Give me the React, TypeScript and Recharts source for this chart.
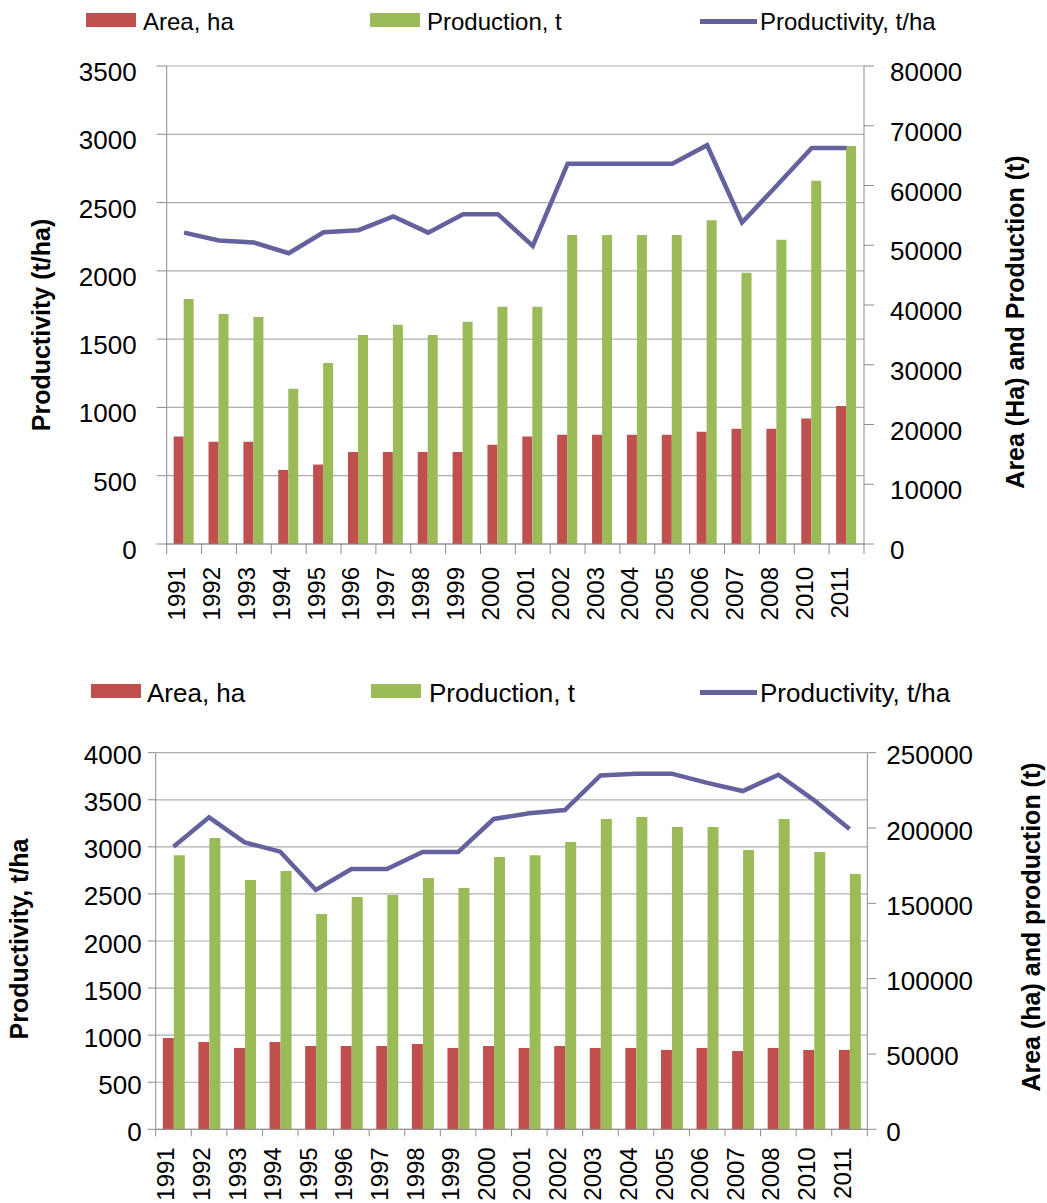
import { ComposedChart, Bar, Line, XAxis, YAxis, CartesianGrid, Label } from "recharts"

const FONT = '"Liberation Sans", Arial, Helvetica, sans-serif'
const AREA_COLOR = "#C0504D"
const PROD_COLOR = "#9BBB59"
const LINE_COLOR = "#63629F"
const AXIS_COLOR = "#8C8C8C"
const GRID_COLOR = "#ADADAD"

const years = [
  "1991", "1992", "1993", "1994", "1995", "1996", "1997", "1998", "1999", "2000",
  "2001", "2002", "2003", "2004", "2005", "2006", "2007", "2008", "2010", "2011",
]

// upper chart
const topArea = [
  18000, 17100, 17100, 12400, 13300, 15400, 15400, 15400, 15400, 16600,
  18000, 18300, 18300, 18300, 18300, 18800, 19300, 19300, 21000, 23100,
]
const topProduction = [
  41000, 38500, 38000, 26000, 30300, 35000, 36700, 35000, 37200, 39700,
  39700, 51700, 51700, 51700, 51700, 54200, 45400, 50900, 60800, 66600,
]
const topProductivity = [
  2280, 2222, 2207, 2129, 2283, 2298, 2398, 2280, 2415, 2415,
  2183, 2785, 2785, 2785, 2785, 2920, 2354, 2625, 2900, 2900,
]
const topLeftTicks = [0, 500, 1000, 1500, 2000, 2500, 3000, 3500]
const topRightTicks = [0, 10000, 20000, 30000, 40000, 50000, 60000, 70000, 80000]

// lower chart
const bottomArea = [
  60600, 58000, 54000, 58000, 55300, 55300, 55300, 56600, 54000, 55300,
  54000, 55300, 54000, 54000, 52700, 54000, 52000, 54000, 52700, 52700,
]
const bottomProduction = [
  182000, 193400, 165500, 171500, 142900, 154200, 155500, 166800, 160200, 180800,
  182000, 190700, 206000, 207300, 200700, 200700, 185400, 206000, 184100, 169500,
]
const bottomProductivity = [
  3002, 3313, 3048, 2949, 2542, 2765, 2765, 2945, 2945, 3296,
  3356, 3391, 3759, 3777, 3777, 3680, 3593, 3766, 3497, 3189,
]
const bottomLeftTicks = [0, 500, 1000, 1500, 2000, 2500, 3000, 3500, 4000]
const bottomRightTicks = [0, 50000, 100000, 150000, 200000, 250000]

const toRows = (area: number[], production: number[], productivity: number[]) =>
  years.map((year, i) => ({ year, area: area[i], production: production[i], productivity: productivity[i] }))

const topRows = toRows(topArea, topProduction, topProductivity)
const bottomRows = toRows(bottomArea, bottomProduction, bottomProductivity)

const legendItems = [
  { label: "Area, ha", kind: "bar", color: AREA_COLOR },
  { label: "Production, t", kind: "bar", color: PROD_COLOR },
  { label: "Productivity, t/ha", kind: "line", color: LINE_COLOR },
]

function ChartLegend({ cy, fontSize, swatchX, textX }: { cy: number; fontSize: number; swatchX: number[]; textX: number[] }) {
  return (
    <>
      {legendItems.map((item, i) => (
        <div key={item.label}>
          {item.kind === "bar" ? (
            <div style={{ position: "absolute", left: swatchX[i], top: cy - 9, width: 50, height: 14, background: item.color }} />
          ) : (
            <div style={{ position: "absolute", left: swatchX[i], top: cy - 3.5, width: 57, height: 5, background: item.color }} />
          )}
          <div
            style={{
              position: "absolute",
              left: textX[i],
              top: cy - fontSize / 2,
              fontSize,
              lineHeight: `${fontSize}px`,
              whiteSpace: "nowrap",
              color: "#000",
            }}
          >
            {item.label}
          </div>
        </div>
      ))}
    </>
  )
}

function makeYearTick(band: number, drop: number, gap: number) {
  return function YearTick(props: any) {
    const { x, y, payload } = props
    const left = x - band / 2
    const isLast = payload.value === years[years.length - 1]
    const tx = x + 1
    const ty = y + gap
    return (
      <g>
        <line x1={left} x2={left} y1={y} y2={y + drop} stroke={AXIS_COLOR} />
        {isLast && <line x1={x + band / 2} x2={x + band / 2} y1={y} y2={y + drop} stroke={AXIS_COLOR} />}
        <text x={tx} y={ty} transform={`rotate(-90 ${tx} ${ty})`} textAnchor="end" fontSize={24} fill="#000">
          {payload.value}
        </text>
      </g>
    )
  }
}

// value labels on the y axes, placed at a fixed distance from the axis line
function makeValueTick(textX: number, anchor: "start" | "end", dy: number) {
  return function ValueTick(props: any) {
    const { y, payload } = props
    return (
      <text x={textX} y={y + dy} textAnchor={anchor} dominantBaseline="central" fontSize={26} fill="#000">
        {payload.value}
      </text>
    )
  }
}

function axisTitle(text: string, x: number, y: number) {
  return () => (
    <text x={x} y={y} transform={`rotate(-90 ${x} ${y})`} textAnchor="middle" fontSize={25} fontWeight="bold" fill="#000">
      {text}
    </text>
  )
}

type PanelProps = {
  rows: typeof topRows
  top: number
  height: number
  plotTop: number
  xAxisHeight: number
  leftWidth: number
  rightWidth: number
  leftDomain: number[]
  leftTicks: number[]
  rightTicks: number[]
  leftTick: [number, number]
  rightTick: [number, number]
  labelDy: number
  tickDrop: number
  labelGap: number
  leftTitle: [string, number, number]
  rightTitle: [string, number, number]
}

function Panel(p: PanelProps) {
  const band = (1047 - p.leftWidth - p.rightWidth) / years.length
  const rightAxisX = 1047 - p.rightWidth
  return (
    <div style={{ position: "absolute", left: 0, top: p.top }}>
      <ComposedChart
        width={1047}
        height={p.height}
        data={p.rows}
        margin={{ top: p.plotTop, right: 0, bottom: 0, left: 0 }}
        barCategoryGap="20%"
        barGap={0}
      >
        <CartesianGrid yAxisId="left" vertical={false} stroke={GRID_COLOR} strokeWidth={1.2} />
        <XAxis
          dataKey="year"
          interval={0}
          height={p.xAxisHeight}
          tickLine={false}
          tickSize={0}
          tickMargin={0}
          axisLine={{ stroke: AXIS_COLOR }}
          tick={makeYearTick(band, p.tickDrop, p.labelGap)}
        />
        <YAxis
          yAxisId="left"
          orientation="left"
          width={p.leftWidth}
          domain={p.leftDomain}
          ticks={p.leftTicks}
          interval={0}
          tickSize={p.leftTick[0]}
          axisLine={{ stroke: AXIS_COLOR }}
          tickLine={{ stroke: AXIS_COLOR }}
          tick={makeValueTick(p.leftWidth - p.leftTick[0] - p.leftTick[1], "end", p.labelDy)}
        >
          <Label content={axisTitle(...p.leftTitle)} />
        </YAxis>
        <YAxis
          yAxisId="right"
          orientation="right"
          width={p.rightWidth}
          domain={[p.rightTicks[0], p.rightTicks[p.rightTicks.length - 1]]}
          ticks={p.rightTicks}
          interval={0}
          tickSize={p.rightTick[0]}
          axisLine={{ stroke: AXIS_COLOR }}
          tickLine={{ stroke: AXIS_COLOR }}
          tick={makeValueTick(rightAxisX + p.rightTick[0] + p.rightTick[1], "start", p.labelDy)}
        >
          <Label content={axisTitle(...p.rightTitle)} />
        </YAxis>
        <Bar yAxisId="right" dataKey="area" name="Area, ha" fill={AREA_COLOR} isAnimationActive={false} />
        <Bar yAxisId="right" dataKey="production" name="Production, t" fill={PROD_COLOR} isAnimationActive={false} />
        <Line
          yAxisId="left"
          dataKey="productivity"
          name="Productivity, t/ha"
          type="linear"
          stroke={LINE_COLOR}
          strokeWidth={4.5}
          dot={false}
          isAnimationActive={false}
        />
      </ComposedChart>
    </div>
  )
}

export default function App() {
  return (
    <div style={{ position: "absolute", left: 0, top: 0, width: 1047, height: 1203, background: "#fff", fontFamily: FONT, overflow: "hidden" }}>
      <ChartLegend cy={22} fontSize={24} swatchX={[86, 370, 700]} textX={[143, 427, 760]} />
      <Panel
        rows={topRows}
        top={0}
        height={650}
        plotTop={66}
        xAxisHeight={106}
        leftWidth={166.7}
        rightWidth={183}
        leftDomain={[0, 3500]}
        leftTicks={topLeftTicks}
        rightTicks={topRightTicks}
        leftTick={[10, 20]}
        rightTick={[10, 16]}
        labelDy={6}
        tickDrop={10}
        labelGap={23}
        leftTitle={["Productivity (t/ha)", 50, 325]}
        rightTitle={["Area (Ha) and Production (t)", 1024, 322]}
      />
      <ChartLegend cy={693} fontSize={26} swatchX={[91, 371, 700]} textX={[147, 429, 760]} />
      <Panel
        rows={bottomRows}
        top={660}
        height={543}
        plotTop={92.7}
        xAxisHeight={73.7}
        leftWidth={155.7}
        rightWidth={179.7}
        leftDomain={[0, 4000]}
        leftTicks={bottomLeftTicks}
        rightTicks={bottomRightTicks}
        leftTick={[8, 6]}
        rightTick={[9, 10]}
        labelDy={2.5}
        tickDrop={7}
        labelGap={18}
        leftTitle={["Productivity, t/ha", 28, 279]}
        rightTitle={["Area (ha) and production (t)", 1040, 267]}
      />
    </div>
  )
}
